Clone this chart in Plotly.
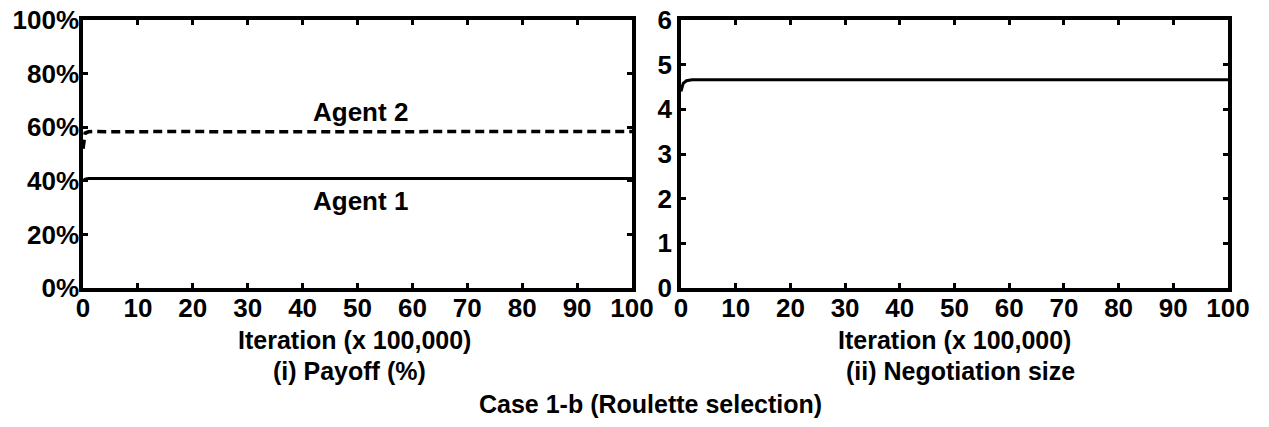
import plotly.graph_objects as go

# ---- data ----
iterations = [0, 0.4, 1, 2, 5, 10, 15, 20, 25, 30, 35, 40, 45, 50, 55, 60, 65, 70, 75, 80, 85, 90, 95, 100]
agent1_payoff = [40.0, 40.6, 40.9, 40.9, 41.0, 40.9, 41.0, 40.9, 41.0, 40.9, 40.9, 41.0, 40.9, 41.0, 40.9, 40.9, 41.0, 40.9, 41.0, 40.9, 40.9, 41.0, 40.9, 40.9]
agent2_payoff = [52.0, 57.8, 58.3, 58.4, 58.3, 58.4, 58.3, 58.4, 58.3, 58.3, 58.4, 58.3, 58.4, 58.3, 58.4, 58.3, 58.3, 58.4, 58.3, 58.4, 58.3, 58.4, 58.3, 58.4]
negotiation_size = [4.40, 4.58, 4.64, 4.66, 4.66, 4.66, 4.67, 4.66, 4.66, 4.67, 4.66, 4.66, 4.66, 4.67, 4.66, 4.66, 4.66, 4.67, 4.66, 4.66, 4.66, 4.66, 4.67, 4.66]

x_ticks = [0, 10, 20, 30, 40, 50, 60, 70, 80, 90, 100]
payoff_ticks = [0, 20, 40, 60, 80, 100]
payoff_labels = ["0%", "20%", "40%", "60%", "80%", "100%"]
size_ticks = [0, 1, 2, 3, 4, 5, 6]

FONT = dict(family="Liberation Sans, Arial, sans-serif", size=26, color="black", weight="bold")
TFONT = dict(family="Liberation Sans, Arial, sans-serif", size=25, color="black", weight="bold")

# body margin is removed by the post script, so the figure fills the window
W, H = 1269, 427

def px_x(px):
    return px / W

def px_y(py):
    return 1 - py / H

fig = go.Figure()
fig.add_trace(go.Scatter(x=iterations, y=agent1_payoff, mode="lines",
                         line=dict(color="black", width=3), xaxis="x", yaxis="y", showlegend=False))
fig.add_trace(go.Scatter(x=iterations, y=agent2_payoff, mode="lines",
                         line=dict(color="black", width=3.5, dash="9px,5px"), xaxis="x", yaxis="y", showlegend=False))
fig.add_trace(go.Scatter(x=iterations, y=negotiation_size, mode="lines",
                         line=dict(color="black", width=3), xaxis="x2", yaxis="y2", showlegend=False))

axis_common = dict(showline=True, linewidth=3.5, linecolor="black", mirror="ticks",
                   ticks="inside", ticklen=5, tickwidth=2.5, tickcolor="black",
                   showgrid=False, zeroline=False, tickfont=FONT, automargin=False,
                   ticklabeloverflow="allow")

ydom = [px_y(288), px_y(20)]
fig.update_layout(
    width=W, height=H,
    margin=dict(l=0, r=0, t=0, b=0, pad=0, autoexpand=False),
    paper_bgcolor="white", plot_bgcolor="white",
    font=FONT,
    xaxis=dict(domain=[px_x(83), px_x(632)], range=[0, 100], tickvals=x_ticks, anchor="y",
               ticklabelstandoff=-6, **axis_common),
    yaxis=dict(domain=ydom, range=[0, 100], tickvals=payoff_ticks, ticktext=payoff_labels,
               anchor="x", ticklabelstandoff=-5, **axis_common),
    xaxis2=dict(domain=[px_x(681), px_x(1228)], range=[0, 100], tickvals=x_ticks, anchor="y2",
                ticklabelstandoff=-6, **axis_common),
    yaxis2=dict(domain=ydom, range=[0, 6], tickvals=size_ticks, anchor="x2",
                ticklabelstandoff=0, **axis_common),
)

def paper_text(text, px, py, font=TFONT):
    return dict(text=text, x=px_x(px), y=px_y(py), xref="paper", yref="paper",
                xanchor="center", yanchor="middle", showarrow=False, font=font)

ann = [
    dict(text="Agent 2", x=50.5, y=65.7, xref="x", yref="y", xanchor="center", yanchor="middle",
         showarrow=False, font=FONT),
    dict(text="Agent 1", x=50.5, y=32.3, xref="x", yref="y", xanchor="center", yanchor="middle",
         showarrow=False, font=FONT),
    paper_text("Iteration (x 100,000)", 354, 340),
    paper_text("(i) Payoff (%)", 349, 371),
    paper_text("Iteration (x 100,000)", 954, 340),
    paper_text("(ii) Negotiation size", 960, 371),
    paper_text("Case 1-b (Roulette selection)", 650, 404),
]
fig.update_layout(annotations=ann)

fig.write_html("out.html", config={"displayModeBar": False},
               post_script="document.body.style.margin='0';document.body.style.overflow='hidden';")
